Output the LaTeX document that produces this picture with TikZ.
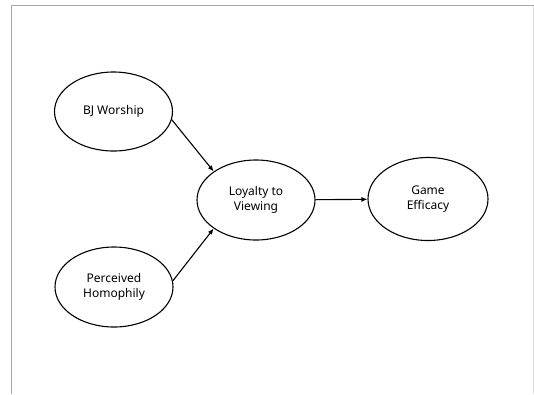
\documentclass[tikz,border=0pt]{standalone}
\usepackage{fontspec}
\setmainfont{Noto Sans}
\usetikzlibrary{shapes.geometric}
\usetikzlibrary{arrows.meta}

\begin{document}
\begin{tikzpicture}[x=1pt,y=-1pt,
        var/.style={ellipse,draw,line width=1.1pt,minimum width=118pt,minimum height=79pt,align=center,font=\fontsize{12}{14.5}\selectfont},
        link/.style={line width=1.1pt,-{Latex[length=6pt,width=5pt]}}]
        \useasboundingbox (0,0) rectangle (534,394);
        \draw[gray!70,line width=1.5pt] (11.5,394) -- (11.5,5.5) -- (534,5.5);
        \draw[gray!25,line width=1pt] (533,5.5) -- (533,394);
        \node[var] (bj) at (113.5,111.5) {BJ Worship};
        \node[var,minimum height=80pt] (ph) at (114,287) {Perceived\\Homophily};
        \node[var,minimum height=80pt] (lv) at (256,200) {Loyalty to\\Viewing};
        \node[var,minimum width=120pt,minimum height=83pt] (ge) at (428,199) {Game\\Efficacy};
        \draw[link] (bj.-8) -- (lv.146);
        \draw[link] (ph.6) -- (lv.214);
        \draw[link] (lv) -- (ge);
    \end{tikzpicture}
\end{document}
